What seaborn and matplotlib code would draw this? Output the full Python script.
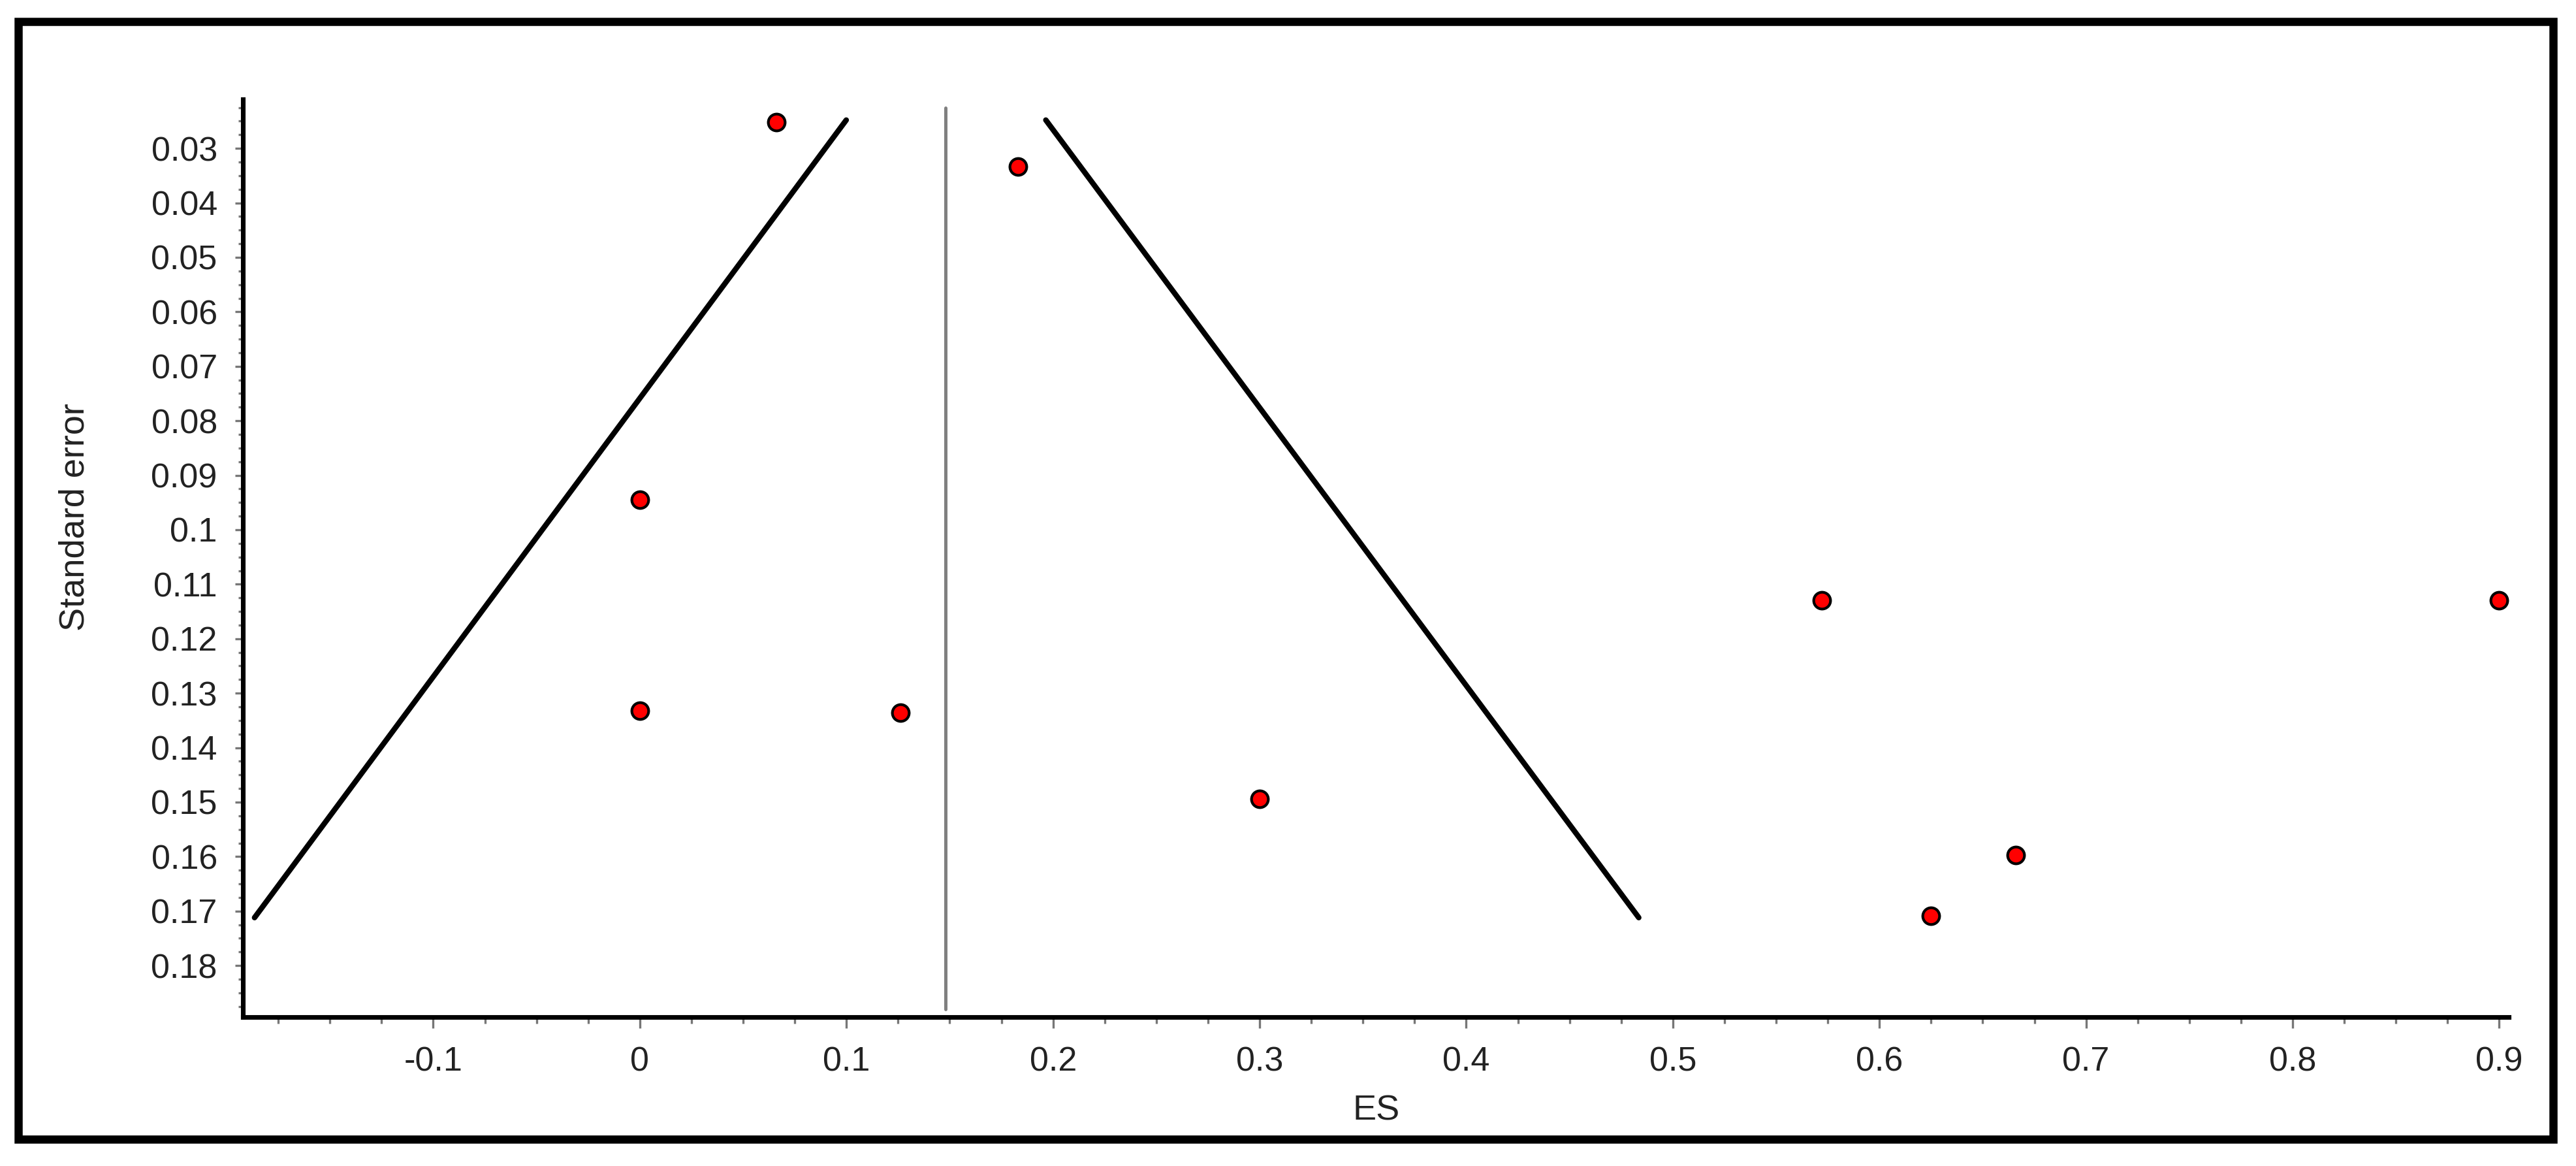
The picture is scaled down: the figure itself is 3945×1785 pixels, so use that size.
"""
Funnel plot: effect size vs standard error
"""

import matplotlib.pyplot as plt
import matplotlib.ticker as mticker
from matplotlib import font_manager
import pandas as pd
import seaborn as sns

# study points
es = [0.066, 0.183, 0.0, 0.0, 0.126, 0.300, 0.572, 0.900, 0.666, 0.625]
se = [0.0252, 0.0333, 0.0945, 0.1332, 0.1336, 0.1494, 0.1130, 0.1130, 0.1597, 0.1709]

# pooled estimate and funnel limits
pooled_es = 0.148
pooled_se = [0.0225, 0.188]
funnel_se = [0.1712, 0.0248]
funnel_left = [-0.1865, 0.0999]
funnel_right = [0.4835, 0.1965]


def _fmt(v, pos):
    if abs(v) < 1e-9:
        return "0"
    return f"{v:.3f}".rstrip("0").rstrip(".")


def plot_funnel(outfile="out.png"):
    sns.set_style("ticks")
    names = {f.name for f in font_manager.fontManager.ttflist}
    family = "Liberation Sans Narrow" if "Liberation Sans Narrow" in names else "Liberation Sans"
    plt.rcParams["font.family"] = [family, "DejaVu Sans"]
    tick_size = 14 if family.endswith("Narrow") else 12.5
    label_size = 14.5 if family.endswith("Narrow") else 13

    df = pd.DataFrame({"ES": es, "SE": se})

    fig = plt.figure(figsize=(13.15, 5.95), dpi=300)
    ax = fig.add_axes([0.0944, 0.1275, 0.8795, 0.7873])

    # funnel and pooled line
    ax.plot(funnel_left, funnel_se, color="black", lw=2.0, zorder=2)
    ax.plot(funnel_right, funnel_se, color="black", lw=2.0, zorder=2)
    ax.plot([pooled_es, pooled_es], pooled_se, color="#808080", lw=1.2, zorder=1)

    sns.scatterplot(
        data=df,
        x="ES",
        y="SE",
        ax=ax,
        color="#ff0000",
        edgecolor="black",
        linewidth=1.0,
        s=38,
        zorder=3,
        clip_on=False,
    )

    ax.set_xlim(-0.192, 0.9046)
    ax.set_ylim(0.1895, 0.021)

    ax.xaxis.set_major_locator(mticker.MultipleLocator(0.1))
    ax.xaxis.set_minor_locator(mticker.MultipleLocator(0.025))
    ax.yaxis.set_minor_locator(mticker.MultipleLocator(0.0025))
    ax.set_yticks([t / 100 for t in range(3, 19)])
    ax.xaxis.set_major_formatter(mticker.FuncFormatter(_fmt))
    ax.yaxis.set_major_formatter(mticker.FuncFormatter(_fmt))

    sns.despine(ax=ax)
    for side in ["left", "bottom"]:
        ax.spines[side].set_linewidth(1.7)
        ax.spines[side].set_color("black")

    ax.tick_params(axis="x", which="major", length=4, width=0.8, color="#777777",
                   labelsize=tick_size, labelcolor="#222222", pad=6.5)
    ax.tick_params(axis="x", which="minor", length=2.5, width=0.8, color="#777777")
    ax.tick_params(axis="y", which="major", length=3, width=0.8, color="#777777",
                   labelsize=tick_size, labelcolor="#222222", pad=6.5)
    ax.tick_params(axis="y", which="minor", length=1.7, width=0.8, color="#777777")

    ax.set_xlabel("ES", fontsize=label_size, color="#222222", labelpad=6)
    ax.set_ylabel("Standard error", fontsize=label_size, color="#222222")
    ax.yaxis.set_label_coords(-0.067, 0.545)

    # black frame round the whole figure
    frame = plt.Rectangle((0.0071, 0.023), 0.984, 0.9585, transform=fig.transFigure,
                          fill=False, edgecolor="black", lw=3.0)
    fig.patches.append(frame)

    fig.savefig(outfile, dpi=300)
    plt.close(fig)


if __name__ == "__main__":
    plot_funnel()
